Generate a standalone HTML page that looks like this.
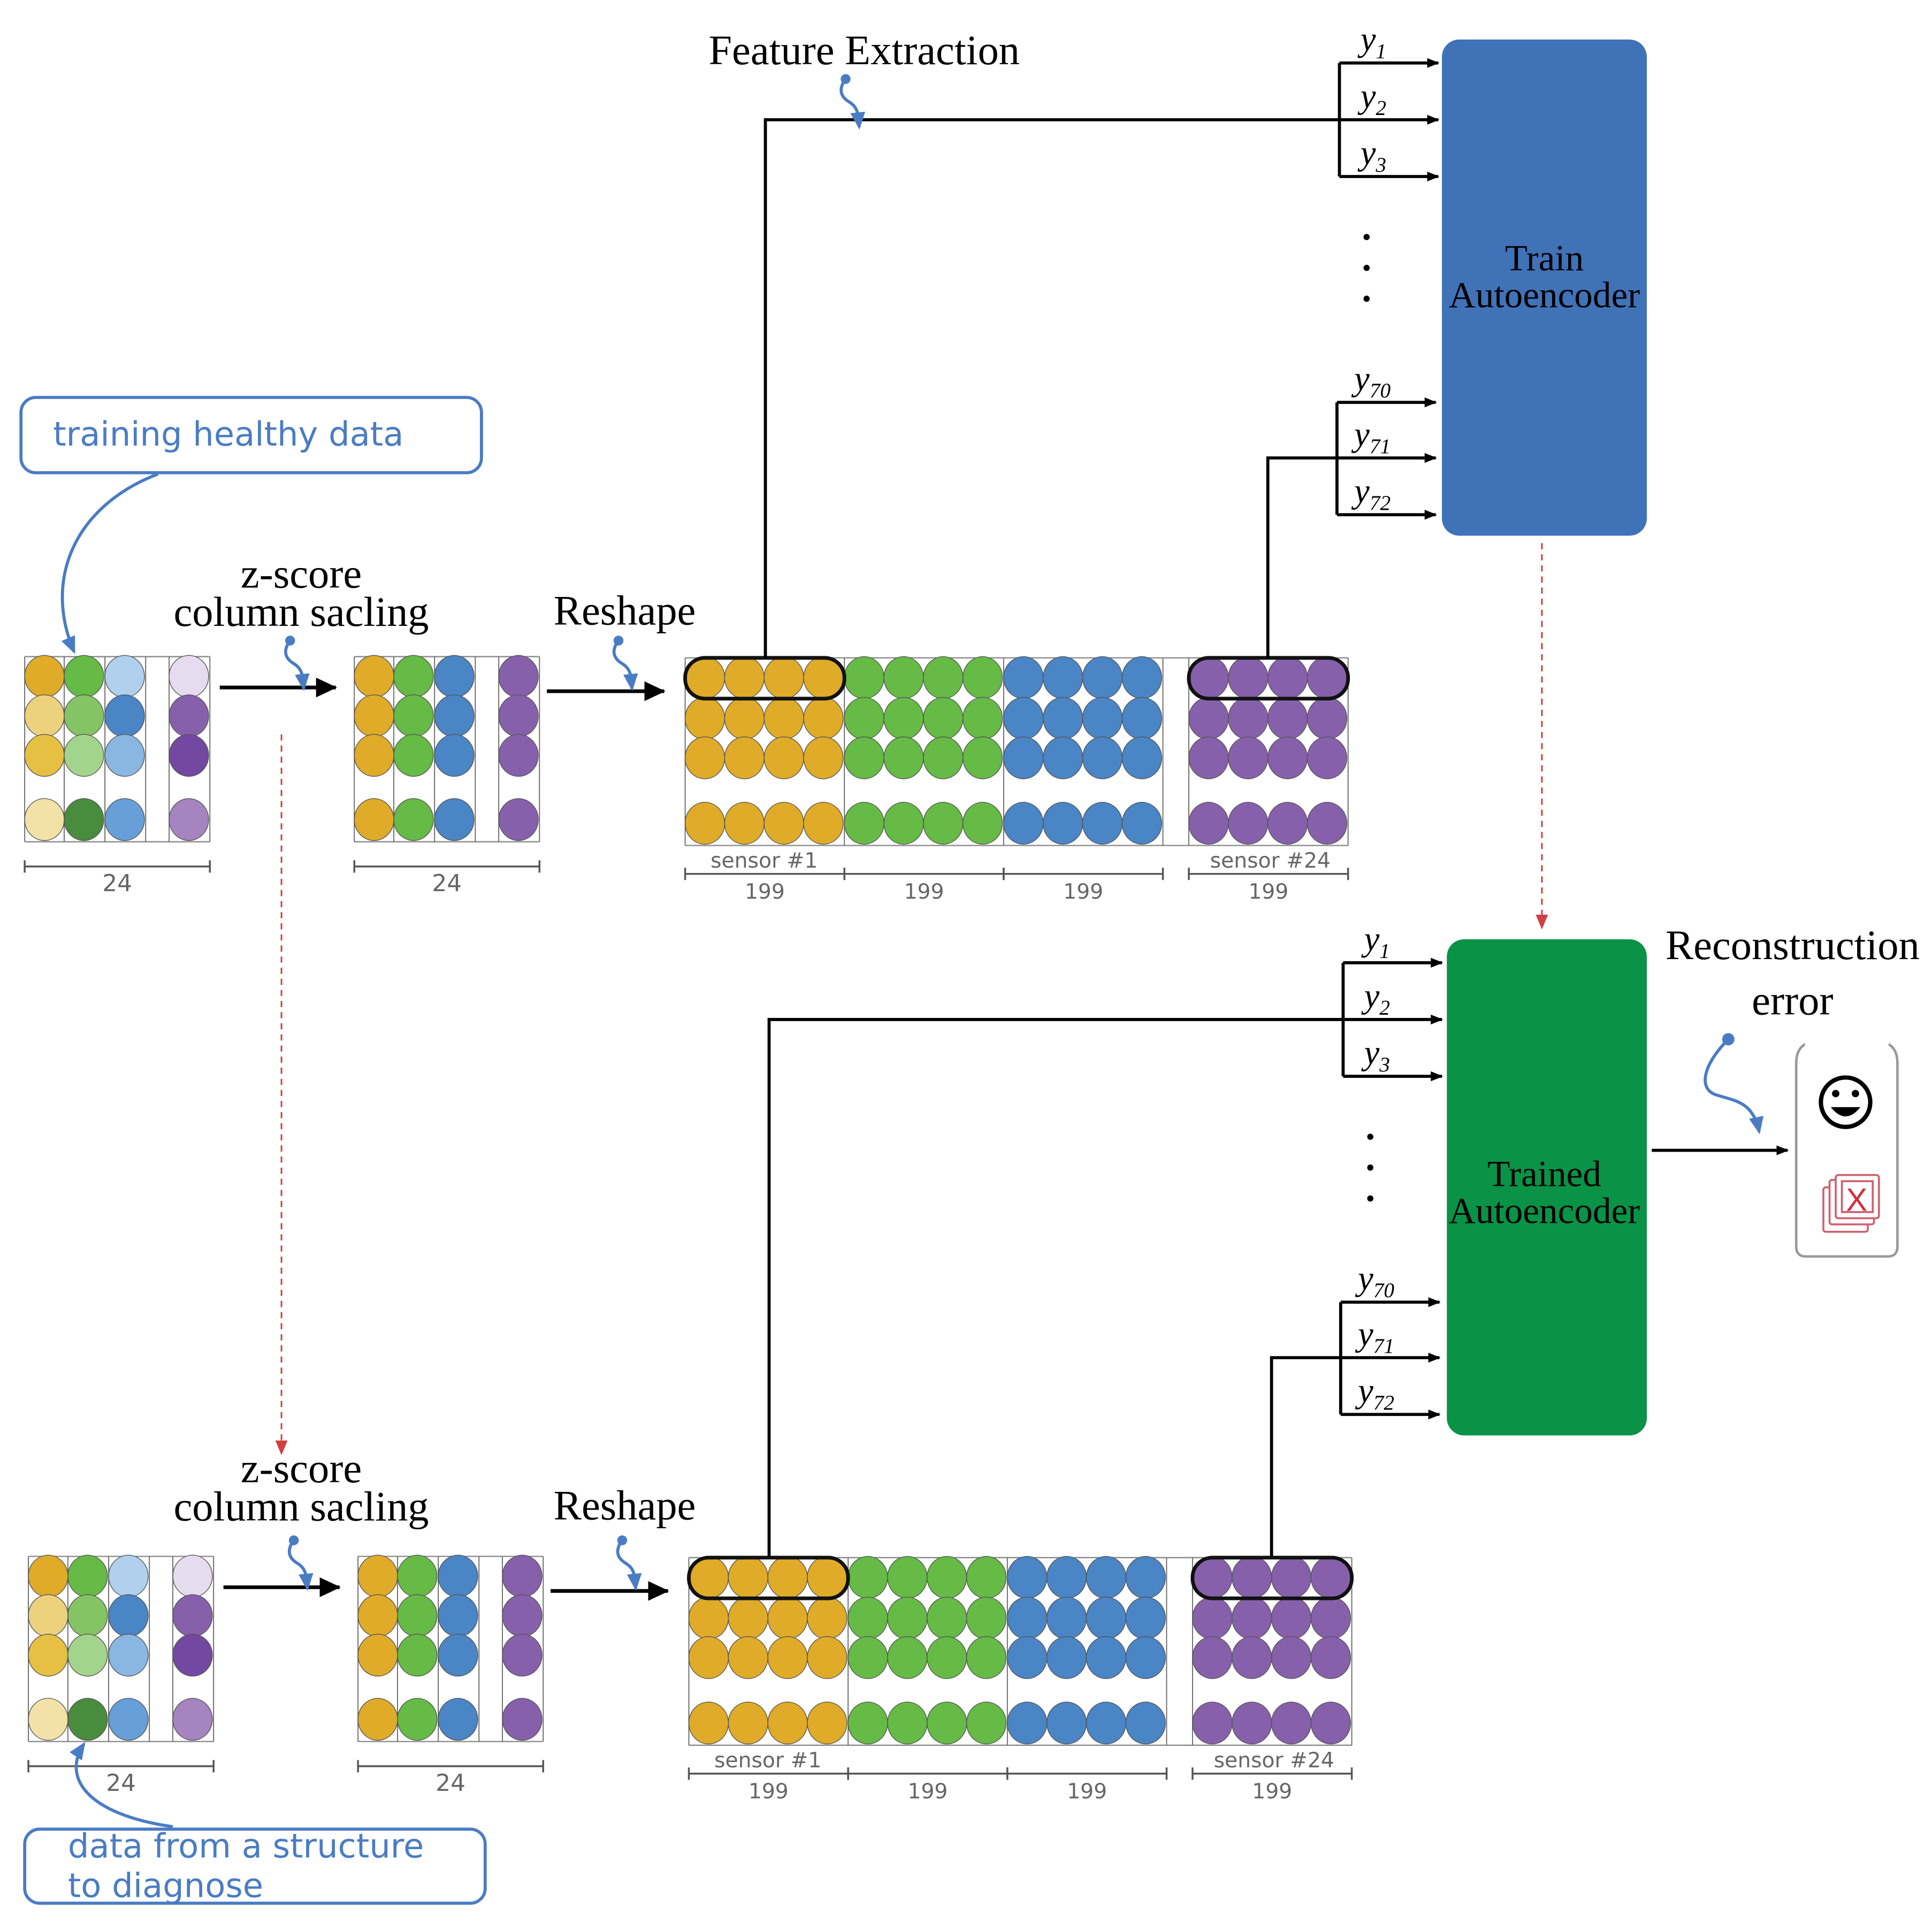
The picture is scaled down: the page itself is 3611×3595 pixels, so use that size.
<!DOCTYPE html>
<html><head><meta charset="utf-8"><style>
html,body{margin:0;padding:0;background:#fff;}
svg{display:block;}
.serif{font-family:"Liberation Serif",serif;fill:#000;}
.sans{font-family:"DejaVu Sans","Liberation Sans",sans-serif;}
</style></head><body>
<svg id="s" xmlns="http://www.w3.org/2000/svg" width="3611" height="3595" viewBox="0 0 1565 1558">
<defs>
<marker id="ab" markerWidth="10" markerHeight="10" refX="9" refY="5" orient="auto" markerUnits="userSpaceOnUse"><path d="M0,1 L10,5 L0,9 z" fill="#000"/></marker>
<marker id="ab2" markerWidth="18" markerHeight="16" refX="16" refY="8" orient="auto" markerUnits="userSpaceOnUse"><path d="M0,0 L17,8 L0,16 z" fill="#000"/></marker>
<marker id="ar" markerWidth="12" markerHeight="10" refX="11" refY="5" orient="auto" markerUnits="userSpaceOnUse"><path d="M0,0 L12,5 L0,10 z" fill="#d04040"/></marker>
<marker id="abl" markerWidth="14" markerHeight="12" refX="12" refY="6" orient="auto" markerUnits="userSpaceOnUse"><path d="M0,0 L14,6 L0,12 z" fill="#4a7cc4"/></marker>
</defs>
<g id="g"></g>

<rect x="1168" y="32" width="166" height="402" rx="14" fill="#4072b8"/>
<text class="serif" x="1251" y="219" font-size="30" text-anchor="middle">Train</text>
<text class="serif" x="1251" y="249" font-size="30" text-anchor="middle">Autoencoder</text>
<rect x="1172" y="761" width="162" height="402" rx="14" fill="#0a9246"/>
<text class="serif" x="1251" y="961" font-size="30" text-anchor="middle">Trained</text>
<text class="serif" x="1251" y="991" font-size="30" text-anchor="middle">Autoencoder</text>

<line x1="1249" y1="440" x2="1249" y2="752" stroke="#d04040" stroke-width="1.3" stroke-dasharray="5,4" marker-end="url(#ar)"/>
<line x1="228" y1="595" x2="228" y2="1178" stroke="#d04040" stroke-width="1.3" stroke-dasharray="5,4" marker-end="url(#ar)"/>

<text class="serif" x="700" y="52" font-size="34" text-anchor="middle">Feature Extraction</text>
<text class="serif" x="244" y="476" font-size="34" text-anchor="middle">z-score</text>
<text class="serif" x="244" y="507" font-size="34" text-anchor="middle">column sacling</text>
<text class="serif" x="506" y="506" font-size="34" text-anchor="middle">Reshape</text>
<text class="serif" x="244" y="1201" font-size="34" text-anchor="middle">z-score</text>
<text class="serif" x="244" y="1232" font-size="34" text-anchor="middle">column sacling</text>
<text class="serif" x="506" y="1231" font-size="34" text-anchor="middle">Reshape</text>
<text class="serif" x="1452" y="777" font-size="34" text-anchor="middle">Reconstruction</text>
<text class="serif" x="1452" y="822" font-size="34" text-anchor="middle">error</text>

<rect x="17" y="322" width="373" height="61" rx="12" fill="#fff" stroke="#4a7cc4" stroke-width="2.5"/>
<text class="sans" x="43" y="361" font-size="27" fill="#4a7cc4">training healthy data</text>
<path d="M128,384 C60,410 35,470 60,528" fill="none" stroke="#4a7cc4" stroke-width="2.5" marker-end="url(#abl)"/>
<rect x="20" y="1482" width="373" height="60" rx="12" fill="#fff" stroke="#4a7cc4" stroke-width="2.5"/>
<text class="sans" x="55" y="1505" font-size="27" fill="#4a7cc4">data from a structure</text>
<text class="sans" x="55" y="1537" font-size="27" fill="#4a7cc4">to diagnose</text>
<path d="M140,1480 C70,1470 50,1440 68,1413" fill="none" stroke="#4a7cc4" stroke-width="2.5" marker-end="url(#abl)"/>

<path d="M1462,846 C1456,850 1455,856 1455,862 L1455,1010 Q1455,1018 1463,1018 L1529,1018 Q1537,1018 1537,1010 L1537,862 C1537,856 1536,850 1530,846" fill="none" stroke="#999" stroke-width="2"/>
<circle cx="1495" cy="893" r="20" fill="none" stroke="#000" stroke-width="3.5"/>
<circle cx="1487" cy="886" r="3" fill="#000"/><circle cx="1503" cy="886" r="3" fill="#000"/>
<path d="M1483,897 Q1495,912 1507,897 z" fill="#000"/>
<g fill="none" stroke="#d06070" stroke-width="1.6">
<rect x="1477" y="962" width="36" height="36" rx="2"/>
<rect x="1482" y="956" width="36" height="36" rx="2" fill="#fff"/>
<rect x="1487" y="952" width="35" height="35" rx="2" fill="#fff"/>
<rect x="1492" y="957" width="25" height="25"/>
</g>
<text x="1504" y="981" font-family="Liberation Sans,sans-serif" font-size="26" fill="#d03040" text-anchor="middle">X</text>
<line x1="1338" y1="932" x2="1448" y2="932" stroke="#000" stroke-width="2.5" marker-end="url(#ab)"/>
</svg>
<script>
var NS="http://www.w3.org/2000/svg",G=document.getElementById("g");
function el(t,a,txt){var e=document.createElementNS(NS,t);for(var k in a)e.setAttribute(k,a[k]);if(txt)e.textContent=txt;G.appendChild(e);return e;}
function line(x1,y1,x2,y2,sw,c,m){var a={x1:x1,y1:y1,x2:x2,y2:y2,stroke:c||"#000","stroke-width":sw||2};if(m)a["marker-end"]=m;return el("line",a);}
var Y="#dfab28",GR="#66ba46",B="#4a85c6",P="#8760ab";
function cell(cx,cy,c){el("ellipse",{cx:cx,cy:cy,rx:16,ry:17,fill:c,stroke:"#555","stroke-width":0.6});}
function matrix(x0,y0,cols){
  var xs=[x0+16,x0+48,x0+81,x0+133],rows=[16,48,80,132];
  line(x0,y0,x0+150,y0,1,"#888");line(x0,y0+150,x0+150,y0+150,1,"#888");
  [0,32,65,98,117,150].forEach(function(d){line(x0+d,y0,x0+d,y0+150,0.8,"#666");});
  for(var i=0;i<4;i++)for(var j=0;j<4;j++)cell(xs[i],y0+rows[j],cols[i][j]);
  line(x0,y0+170,x0+150,y0+170,1.5,"#555");line(x0,y0+165,x0,y0+175,1.5,"#555");line(x0+150,y0+165,x0+150,y0+175,1.5,"#555");
  el("text",{x:x0+75,y:y0+190,"font-size":19,fill:"#666","text-anchor":"middle","font-family":"DejaVu Sans,sans-serif"},"24");
}
var raw=[["#dfab28","#edd27e","#e6c043","#f3e2a8"],["#66ba46","#84c465","#a3d48c","#4a8c3d"],["#b0d0ee","#4a85c6","#8ab6e2","#67a0d8"],["#e7dcef","#8760ab","#7348a0","#a584c0"]];
var sc=[[Y,Y,Y,Y],[GR,GR,GR,GR],[B,B,B,B],[P,P,P,P]];
function grid(x0,y0){
  var groups=[[0,Y],[129,GR],[258,B],[408,P]];
  line(x0,y0,x0+537,y0,1,"#888");line(x0,y0+152,x0+537,y0+152,1,"#888");
  [0,129,258,387,408,537].forEach(function(d){line(x0+d,y0,x0+d,y0+152,0.8,"#666");});
  groups.forEach(function(g){for(var i=0;i<4;i++)[16,49,81,134].forEach(function(r){cell(x0+g[0]+16+i*32,y0+r,g[1]);});});
  el("rect",{x:x0,y:y0,width:129,height:33,rx:16,fill:"none",stroke:"#111","stroke-width":3});
  el("rect",{x:x0+408,y:y0,width:129,height:33,rx:16,fill:"none",stroke:"#111","stroke-width":3});
  var ly=y0+175;
  [[0,129],[129,258],[258,387],[408,537]].forEach(function(s){line(x0+s[0],ly,x0+s[1],ly,1.5,"#555");line(x0+s[0],ly-5,x0+s[0],ly+5,1.5,"#555");line(x0+s[1],ly-5,x0+s[1],ly+5,1.5,"#555");
    el("text",{x:x0+(s[0]+s[1])/2,y:ly+20,"font-size":17,fill:"#666","text-anchor":"middle","font-family":"DejaVu Sans,sans-serif"},"199");});
  el("text",{x:x0+64,y:ly-5,"font-size":17,fill:"#666","text-anchor":"middle","font-family":"DejaVu Sans,sans-serif"},"sensor #1");
  el("text",{x:x0+474,y:ly-5,"font-size":17,fill:"#666","text-anchor":"middle","font-family":"DejaVu Sans,sans-serif"},"sensor #24");
}
function squig(x,y){el("path",{d:"M"+x+","+y+" c-6,8 -4,14 2,18 c5,3 7,6 8,11 l1,10",fill:"none",stroke:"#4a7cc4","stroke-width":2.5,"marker-end":"url(#abl)"});el("circle",{cx:x,cy:y,r:4,fill:"#4a7cc4"});}
function ylab(x,y,sub){var t=el("text",{x:x,y:y,"font-size":28,"font-style":"italic","font-family":"Liberation Serif,serif"});t.textContent="y";var s=document.createElementNS(NS,"tspan");s.setAttribute("font-size","17");s.setAttribute("dy","6");s.textContent=sub;t.appendChild(s);}
function block(dy,dx,lx1,lx2,bx1,bx2,tx){
  matrix(20+dx,532+dy,raw);matrix(287+dx,532+dy,sc);grid(555+dx,533+dy);
  line(178+dx,557+dy,272+dx,557+dy,3,"#000","url(#ab2)");
  line(443+dx,560+dy,538+dx,560+dy,3,"#000","url(#ab2)");
  squig(235+dx,519+dy);squig(501+dx,519+dy);
  el("polyline",{points:lx1+","+(533+dy)+" "+lx1+","+(97+dy)+" "+bx1+","+(97+dy),fill:"none",stroke:"#000","stroke-width":2.5});
  line(bx1,51+dy,bx1,143+dy,2.5);
  [[51,"1"],[97,"2"],[143,"3"]].forEach(function(p){line(bx1,p[0]+dy,tx,p[0]+dy,2.5,"#000","url(#ab)");ylab(bx1+17,p[0]+dy-10,p[1]);});
  [192,217,242].forEach(function(v){el("circle",{cx:bx1+22,cy:v+dy,r:2.5,fill:"#000"});});
  el("polyline",{points:lx2+","+(533+dy)+" "+lx2+","+(371+dy)+" "+bx2+","+(371+dy),fill:"none",stroke:"#000","stroke-width":2.5});
  line(bx2,326+dy,bx2,417+dy,2.5);
  [[326,"70"],[371,"71"],[417,"72"]].forEach(function(p){line(bx2,p[0]+dy,tx-2,p[0]+dy,2.5,"#000","url(#ab)");ylab(bx2+14,p[0]+dy-10,p[1]);});
}
block(0,0,620,1027,1085,1083,1165);
block(729,3,623,1030,1088,1086,1168);
squig(685,64);
el("path",{d:"M1400,842 c-20,20 -25,40 -10,45 c15,5 30,5 35,30",fill:"none",stroke:"#4a7cc4","stroke-width":2.5,"marker-end":"url(#abl)"});
el("circle",{cx:1400,cy:842,r:5,fill:"#4a7cc4"});
</script>
</body></html>
